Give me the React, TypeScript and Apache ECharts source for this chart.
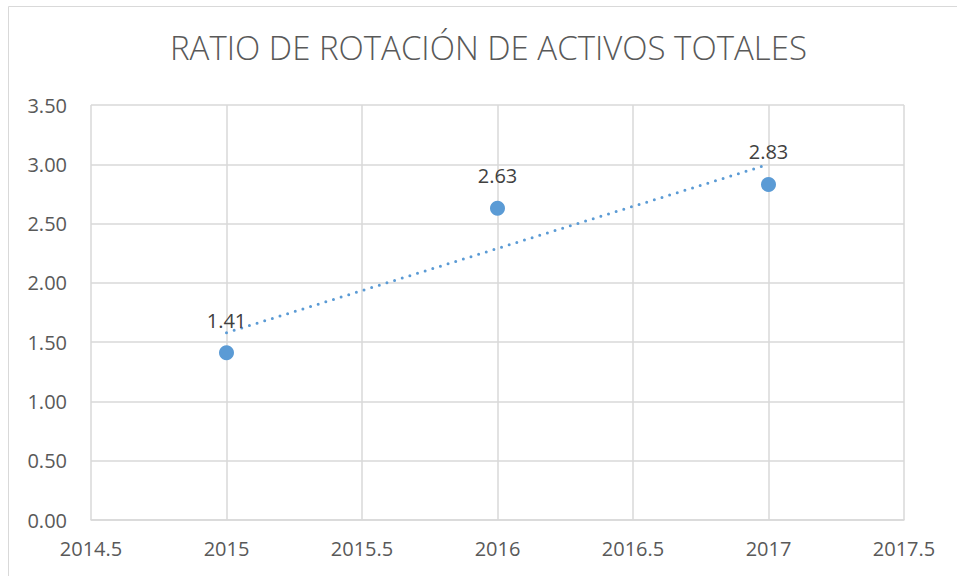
import React, { useEffect, useRef } from "react";
import * as echarts from "echarts";

const TITLE = "RATIO DE ROTACIÓN DE ACTIVOS TOTALES";
const years = [2015, 2016, 2017];
const ratios = [1.41, 2.63, 2.83];
const xMin = 2014.5;
const xMax = 2017.5;
const xStep = 0.5;
const yMin = 0;
const yMax = 3.5;
const yStep = 0.5;

function trend(xs: number[], ys: number[]) {
  const n = xs.length;
  const mx = xs.reduce((a, b) => a + b, 0) / n;
  const my = ys.reduce((a, b) => a + b, 0) / n;
  let num = 0;
  let den = 0;
  for (let i = 0; i < n; i++) {
    num += (xs[i] - mx) * (ys[i] - my);
    den += (xs[i] - mx) * (xs[i] - mx);
  }
  const slope = num / den;
  const b = my - slope * mx;
  const x0 = Math.min(...xs);
  const x1 = Math.max(...xs);
  return [
    [x0, slope * x0 + b],
    [x1, slope * x1 + b],
  ];
}

const FONT = "'Open Sans', 'Noto Sans', sans-serif";
const BLUE = "#5b9bd5";
const GRID = "#d9d9d9";

export default function App() {
  const ref = useRef<HTMLDivElement>(null);
  useEffect(() => {
    if (!ref.current) return;
    const chart = echarts.init(ref.current, null, { renderer: "svg" });
    chart.setOption({
      animation: false,
      backgroundColor: "#ffffff",
      textStyle: { fontFamily: FONT },
      title: {
        text: TITLE,
        left: 170,
        top: 31,
        padding: 0,
        textStyle: {
          fontFamily: FONT,
          fontSize: 33,
          fontWeight: 300,
          color: "#595959",
        },
      },
      graphic: [
        {
          type: "rect",
          shape: { x: 8.5, y: 6.5, width: 1000, height: 1000 },
          style: { fill: "none", stroke: GRID, lineWidth: 1 },
          silent: true,
        },
      ],
      grid: { left: 91, right: 53, top: 105, bottom: 56 },
      xAxis: {
        type: "value",
        min: xMin,
        max: xMax,
        interval: xStep,
        axisLine: { show: true, lineStyle: { color: GRID, width: 1.5 } },
        axisTick: { show: false },
        splitLine: { show: true, lineStyle: { color: GRID, width: 1.5 } },
        axisLabel: {
          formatter: (v: number) => String(v),
          fontFamily: FONT,
          fontSize: 20,
          color: "#595959",
          margin: 18,
        },
      },
      yAxis: {
        type: "value",
        min: yMin,
        max: yMax,
        interval: yStep,
        axisLine: { show: false },
        axisTick: { show: false },
        splitLine: { show: true, lineStyle: { color: GRID, width: 1.5 } },
        axisLabel: {
          formatter: (v: number) => v.toFixed(2),
          fontFamily: FONT,
          fontSize: 20,
          color: "#595959",
          margin: 24,
        },
      },
      series: [
        {
          type: "line",
          data: trend(years, ratios),
          symbol: "none",
          lineStyle: {
            color: BLUE,
            width: 3,
            type: [0, 8],
            cap: "round",
          },
          silent: true,
          z: 2,
        },
        {
          type: "scatter",
          data: years.map((y, i) => [y, ratios[i]]),
          symbol: "circle",
          symbolSize: 15,
          itemStyle: { color: BLUE, opacity: 1 },
          label: {
            show: true,
            position: "top",
            distance: 15,
            formatter: (p: any) => p.value[1].toFixed(2),
            fontFamily: FONT,
            fontSize: 20,
            color: "#404040",
          },
          z: 3,
        },
      ],
    });
    return () => chart.dispose();
  }, []);
  return (
    <div
      ref={ref}
      style={{ position: "absolute", left: 0, top: 0, width: 957, height: 576 }}
    />
  );
}
